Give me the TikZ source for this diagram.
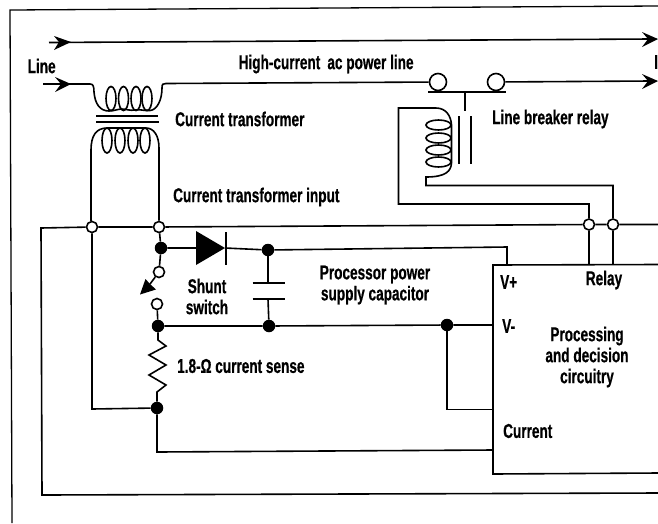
\documentclass[tikz,border=0pt]{standalone}
\usepackage{fontspec}
\setmainfont{Liberation Sans}[FakeStretch=0.68,BoldFeatures={FakeBold=0.6}]
\tikzset{
 wire/.style={line width=1.6pt,black},
 thin wire/.style={line width=1.2pt,black},
 open/.style={circle,draw=black,line width=1.6pt,fill=white,minimum size=11pt,inner sep=0pt},
 big open/.style={circle,draw=black,line width=1.6pt,fill=white,minimum size=17pt,inner sep=0pt},
 dot/.style={circle,fill=black,minimum size=12.5pt,inner sep=0pt},
 lab/.style={font=\fontsize{20}{21}\selectfont\bfseries,inner sep=0pt,anchor=west,align=center},
 clab/.style={font=\fontsize{20}{21}\selectfont\bfseries,inner sep=0pt,align=center},
 arr/.style={fill=black,draw=none},
 coil/.style={line width=1.6pt,black}
}
\begin{document}
\begin{tikzpicture}[x=1pt,y=-1pt]
\useasboundingbox (0,0) rectangle (658,523);
% frame
\draw[line width=1.3pt] (12,523) -- (10,10) -- (658,6);
% nodes
\node[open] (a) at (92,227) {};
\node[open] (b) at (159,227) {};
\node[open] (r1) at (589,224.5) {};
\node[open] (r2) at (613,224.5) {};
\node[big open] (c1) at (438,82) {};
\node[big open] (c2) at (496,82) {};
\node[dot] (d1) at (161,248) {};
\node[dot] (d2) at (268,250) {};
\node[dot] (d3) at (158,326) {};
\node[dot] (d4) at (269,326) {};
\node[dot] (d5) at (447,325) {};
\node[dot] (d6) at (157,408) {};
\node[open] (s1) at (159,272) {};
\node[open] (s2) at (157,304) {};
% top line
\draw[wire] (49,42.5) -- (650,39);
\path[arr] (71,42) -- (54,36) -- (59,42) -- (54,50) -- cycle;
\path[arr] (658,39) -- (642,32) -- (648,39) -- (642,47) -- cycle;
% line input
\draw[wire] (43,84) -- (90,84);
\path[arr] (71,84) -- (55,77) -- (61,84) -- (55,92) -- cycle;
% transformer primary
\draw[coil] (90,84) .. controls (93,84) and (94,86) .. (94,92) .. controls (95,104) and (100,111) .. (109,111)
 .. controls (114,111) and (118,109) .. (122,109) .. controls (126,109) and (130,111) .. (135,110)
 .. controls (140,109) and (144,111) .. (150,110.5) .. controls (157,110) and (162,100) .. (162,88)
 .. controls (162,84) and (163,83.5) .. (166,83.5);
\foreach \cx in {111,123.5,136,147} \draw[coil] (\cx,98.5) ellipse [x radius=5,y radius=12];
\draw[wire] (166,83.5) -- (c1);
\draw[wire] (c2) -- (650,81);
\path[arr] (658,81) -- (642,74) -- (648,81) -- (642,89) -- cycle;
% contact bar
\draw[wire] (428,92) -- (506,92);
\draw[thin wire] (465,92) -- (465,111);
% core
\draw[wire] (96,116) -- (158,116);
\draw[wire] (96,122) -- (159,122);
% transformer secondary
\foreach \cx in {107,120,133,145} \draw[coil] (\cx,140.5) ellipse [x radius=5,y radius=12.5];
\draw[coil] (91,221) -- (91,150) .. controls (91,136) and (96,128) .. (107,128) -- (146,128)
 .. controls (154,128) and (159,136) .. (159,148) -- (b);
% relay coil
\foreach \cy in {125,138,150,162} \draw[coil] (438.5,\cy) ellipse [x radius=12.5,y radius=5];
\draw[coil] (r1) |- (398.5,204) -- (398.5,108) -- (436,108) .. controls (446,108) and (451,116) .. (451.5,125)
 -- (451.5,163) .. controls (451,171) and (446,177) .. (426,177) -- (426,185.5) -- (613,185.5) -- (r2);
\draw[wire] (459,116) -- (459,164);
\draw[wire] (471,116) -- (471,164);
% horizontal bus
\draw[wire] (658,224.5) -- (r2) -- (r1) -- (b);
\draw[wire] (b) -- (a) -- (41,228) -- (42,495) -- (658,493);
% down from relay
\draw[wire] (r1) -- (589,265);
\draw[wire] (r2) -- (613,265);
% left loop
\draw[wire] (a) -- (92,409) -- (d6);
% diode branch
\draw[wire] (b) -- (d1) -- (197,248);
\draw[wire] (d1) -- (s1);
\path[arr] (196,231) -- (225,248) -- (196,265) -- cycle;
\draw[wire] (226,232) -- (226,265);
\draw[wire] (225,248) -- (d2) -- (507,247) -- (507,265);
% shunt
\draw[wire] (s2) -- (d3);
\draw[wire] (s1) -- (150,284);
\path[arr] (140,294.5) -- (145.5,279) -- (150,284) -- (156,289.5) -- cycle;
% capacitor
\draw[wire] (d2) -- (268,283);
\draw[wire] (252.5,283) -- (284.5,283);
\draw[wire] (252.5,299) -- (284.5,299);
\draw[wire] (268,299) -- (d4);
% lower bus
\draw[wire] (d3) -- (d4) -- (d5) -- (493,325);
\draw[wire] (d5) -- (447,409.5) -- (493,409.5);
% resistor
\draw[wire,line join=miter] (d3) -- (158,340) -- (166,346) -- (149,355) -- (166,365) -- (149,375) -- (166,385) -- (157,392) -- (d6);
\draw[wire] (d6) -- (157,452) -- (493,450);
% box
\draw[line width=1.6pt] (658,264.5) -- (493,265) -- (493,474) -- (658,473);
% labels
\node[lab] (t1) at (27.5,66) {Line};
\node[lab] (t2) at (238.5,64) {High-current\, ac power line};
\node[lab] (t3) at (175,119) {Current transformer};
\node[lab] (t4) at (173,197) {Current transformer input};
\node[lab] (t5) at (492,119) {Line breaker relay};
\node[lab] (t6) at (654,62) {I};
\node[clab] (t7) at (207,296.5) {Shunt\\switch};
\node[clab] (t8) at (375,285) {Processor power\\supply capacitor};
\node[lab] (t9) at (177,366) {1.8-Ω current sense};
\node[lab] (t10) at (500,282) {V+};
\node[lab] (t11) at (502,326) {V-};
\node[clab] (t12) at (604,280) {Relay};
\node[clab] (t13) at (587,357) {Processing\\and decision\\circuitry};
\node[lab] (t14) at (503,431) {Current};
\end{tikzpicture}
\end{document}
